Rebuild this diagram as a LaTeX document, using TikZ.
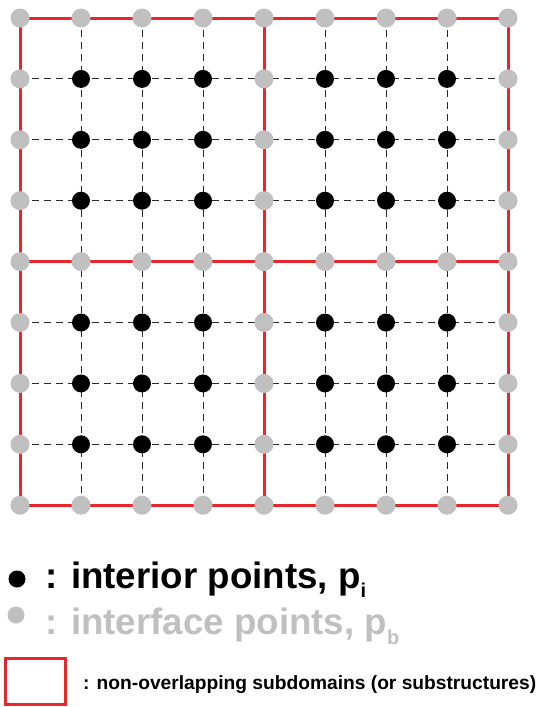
\documentclass[tikz,border=0pt]{standalone}
\usepackage{fontspec}
\setmainfont{Liberation Sans}
\definecolor{ifgray}{RGB}{192,192,192}
\definecolor{subred}{RGB}{232,38,43}
\definecolor{gridgray}{RGB}{40,40,40}
\tikzset{
  interior/.style={circle,fill=black,inner sep=0pt,minimum size=18pt},
  interface/.style={circle,fill=ifgray,inner sep=0pt,minimum size=19pt},
  gridline/.style={draw=gridgray,line width=0.9pt,dash pattern=on 7pt off 5pt},
  subline/.style={draw=subred,line width=3pt},
  legendtext/.style={anchor=base west,inner sep=0pt,font=\bfseries}
}
\newcommand{\subtext}[2]{\raisebox{#1}{\fontsize{20}{20}\selectfont #2}}
\begin{document}
\begin{tikzpicture}[x=1pt,y=-1pt]
  \useasboundingbox (0,0) rectangle (538,707);
  % grid coordinates (9 x 9 points)
  \foreach \i in {0,...,8}{
    \foreach \j in {0,...,8}{
      \coordinate (c-\i-\j) at ({20+61*\i},{18+60.9*\j});
    }
  }
  % dashed mesh lines
  \foreach \k in {1,2,3,5,6,7}{
    \draw[gridline] (c-\k-0) -- (c-\k-8);
    \draw[gridline] (c-0-\k) -- (c-8-\k);
  }
  % subdomain boundaries
  \draw[subline] (c-0-0) rectangle (c-8-8);
  \draw[subline] (c-4-0) -- (c-4-8);
  \draw[subline] (c-0-4) -- (c-8-4);
  % points
  \foreach \i in {0,...,8}{
    \foreach \j in {0,...,8}{
      \pgfmathtruncatemacro{\onbd}{(\i==0)||(\i==4)||(\i==8)||(\j==0)||(\j==4)||(\j==8)}
      \ifnum\onbd=1
        \node[interface] (p-\i-\j) at (c-\i-\j) {};
      \else
        \node[interior] (p-\i-\j) at (c-\i-\j) {};
      \fi
    }
  }
  % legend
  \node[interior,minimum size=17pt] (legint) at (17,579) {};
  \node[legendtext] (txtint) at (45,588)
    {\fontsize{36.7}{40}\selectfont : interior points, p\subtext{-9pt}{i}};
  \node[interface,minimum size=17pt] (legifc) at (16,615) {};
  \node[legendtext,text=ifgray] (txtifc) at (45,634)
    {\fontsize{36.7}{40}\selectfont : interface points, p\subtext{-10pt}{b}};
  \node[draw=subred,line width=2.5pt,minimum width=60pt,minimum height=46pt,inner sep=0pt] (legbox) at (35.5,681.5) {};
  \node[legendtext] (txtsub) at (83,689)
    {\fontsize{19.2}{22}\selectfont : non-overlapping subdomains (or substructures)};
\end{tikzpicture}
\end{document}
